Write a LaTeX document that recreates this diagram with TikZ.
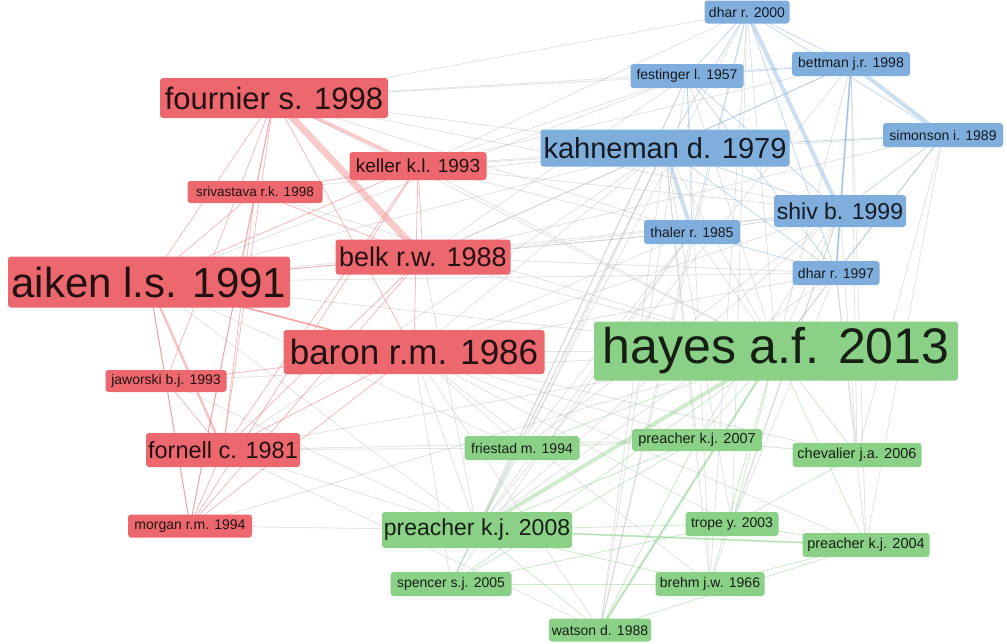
\documentclass[tikz,border=0pt]{standalone}
\usepackage{fontspec}
\setmainfont{Liberation Sans}
\newcommand\fsz[1]{\fontsize{#1}{#1}\selectfont}
\definecolor{cred}{RGB}{236,104,110}
\definecolor{cblue}{RGB}{128,174,220}
\definecolor{cgreen}{RGB}{138,208,134}
\definecolor{cgray}{RGB}{165,170,174}
\pgfdeclarelayer{bg}
\pgfsetlayers{bg,main}
\tikzset{
  nb/.style={rounded corners=3pt, inner sep=0pt, anchor=center},
  rnode/.style={nb, fill=cred, text=cred!15!black},
  bnode/.style={nb, fill=cblue, text=cblue!15!black},
  gnode/.style={nb, fill=cgreen, text=cgreen!15!black},
  redge/.style={draw=cred, opacity=0.45, line width=0.8pt},
  bedge/.style={draw=cblue, opacity=0.45, line width=0.8pt},
  gedge/.style={draw=cgreen, opacity=0.45, line width=0.8pt},
  xedge/.style={draw=cgray, opacity=0.3, line width=0.9pt},
}
\begin{document}
\begin{tikzpicture}[x=1pt,y=-1pt]
\useasboundingbox (0,0) rectangle (1007,643);
% red cluster
\node[rnode, minimum width=228, minimum height=40, font=\fsz{31}] (fournier) at (274,98) {fournier s. 1998};
\node[rnode, minimum width=137, minimum height=28, font=\fsz{19}] (keller) at (418,166) {keller k.l. 1993};
\node[rnode, minimum width=135, minimum height=22, font=\fsz{13.5}] (srivastava) at (255,192) {srivastava r.k. 1998};
\node[rnode, minimum width=175, minimum height=35, font=\fsz{27}] (belk) at (423,257) {belk r.w. 1988};
\node[rnode, minimum width=282, minimum height=51, font=\fsz{42}] (aiken) at (149,282) {aiken l.s. 1991};
\node[rnode, minimum width=261, minimum height=44, font=\fsz{35}] (baron) at (414,352) {baron r.m. 1986};
\node[rnode, minimum width=121, minimum height=22, font=\fsz{14}] (jaworski) at (166,381) {jaworski b.j. 1993};
\node[rnode, minimum width=154, minimum height=34, font=\fsz{23.5}] (fornell) at (223,450) {fornell c. 1981};
\node[rnode, minimum width=124, minimum height=23, font=\fsz{14}] (morgan) at (190,526) {morgan r.m. 1994};
% blue cluster
\node[bnode, minimum width=85, minimum height=23, font=\fsz{14}] (dharA) at (747,12) {dhar r. 2000};
\node[bnode, minimum width=113, minimum height=24, font=\fsz{14}] (festinger) at (687,76) {festinger l. 1957};
\node[bnode, minimum width=118, minimum height=24, font=\fsz{14}] (bettman) at (851,64) {bettman j.r. 1998};
\node[bnode, minimum width=249, minimum height=37, font=\fsz{29}] (kahneman) at (665,148) {kahneman d. 1979};
\node[bnode, minimum width=120, minimum height=24, font=\fsz{14}] (simonson) at (943,135) {simonson i. 1989};
\node[bnode, minimum width=132, minimum height=32, font=\fsz{23}] (shiv) at (840,211) {shiv b. 1999};
\node[bnode, minimum width=96, minimum height=24, font=\fsz{14}] (thaler) at (692,232) {thaler r. 1985};
\node[bnode, minimum width=87, minimum height=24, font=\fsz{14}] (dharB) at (836,273) {dhar r. 1997};
% green cluster
\node[gnode, minimum width=364, minimum height=59, font=\fsz{50}] (hayes) at (776,351) {hayes a.f. 2013};
\node[gnode, minimum width=115, minimum height=24, font=\fsz{14}] (friestad) at (522,448) {friestad m. 1994};
\node[gnode, minimum width=130, minimum height=22, font=\fsz{14.5}] (pre07) at (697,440) {preacher k.j. 2007};
\node[gnode, minimum width=129, minimum height=24, font=\fsz{14.5}] (chevalier) at (857,455) {chevalier j.a. 2006};
\node[gnode, minimum width=190, minimum height=36, font=\fsz{23}] (pre08) at (477,530) {preacher k.j. 2008};
\node[gnode, minimum width=93, minimum height=24, font=\fsz{14}] (trope) at (732,524) {trope y. 2003};
\node[gnode, minimum width=127, minimum height=24, font=\fsz{14.5}] (pre04) at (866,545) {preacher k.j. 2004};
\node[gnode, minimum width=121, minimum height=24, font=\fsz{14}] (spencer) at (451,584) {spencer s.j. 2005};
\node[gnode, minimum width=109, minimum height=24, font=\fsz{14}] (brehm) at (710,584) {brehm j.w. 1966};
\node[gnode, minimum width=102, minimum height=23, font=\fsz{14}] (watson) at (600,630) {watson d. 1988};

\begin{pgfonlayer}{bg}
% cross-cluster grey links
\foreach \a/\b in {aiken/hayes,aiken/kahneman,aiken/pre08,aiken/shiv,aiken/thaler,aiken/festinger,aiken/dharB,aiken/friestad,
  baron/hayes,baron/pre08,baron/kahneman,baron/pre07,baron/friestad,baron/spencer,baron/watson,baron/shiv,baron/dharB,baron/trope,baron/pre04,baron/chevalier,baron/brehm,baron/thaler,
  fournier/kahneman,fournier/festinger,fournier/dharA,fournier/bettman,fournier/shiv,fournier/hayes,fournier/thaler,
  keller/kahneman,keller/festinger,keller/bettman,keller/shiv,keller/thaler,keller/hayes,keller/dharA,keller/simonson,
  belk/kahneman,belk/hayes,belk/shiv,belk/festinger,belk/thaler,belk/pre08,belk/dharB,belk/simonson,belk/bettman,
  fornell/hayes,fornell/pre08,fornell/friestad,fornell/watson,fornell/pre07,fornell/kahneman,
  morgan/pre08,morgan/hayes,srivastava/kahneman,srivastava/hayes,jaworski/hayes,jaworski/pre08,
  kahneman/hayes,kahneman/pre08,kahneman/friestad,kahneman/trope,kahneman/brehm,kahneman/watson,kahneman/spencer,kahneman/pre07,
  festinger/hayes,festinger/brehm,festinger/spencer,festinger/pre08,festinger/watson,
  shiv/hayes,shiv/pre07,shiv/pre08,shiv/trope,shiv/brehm,shiv/friestad,shiv/chevalier,
  dharB/hayes,dharB/pre04,dharB/trope,dharB/pre08,dharB/chevalier,
  thaler/hayes,thaler/pre08,thaler/friestad,thaler/watson,thaler/spencer,
  simonson/hayes,simonson/pre04,simonson/chevalier,
  bettman/hayes,bettman/pre08,bettman/chevalier,bettman/pre04,
  dharA/hayes,dharA/pre08,dharA/trope,dharA/watson,dharA/brehm}
  \draw[xedge] (\a.center) -- (\b.center);
% red cluster links
\foreach \a/\b in {fournier/aiken,fournier/srivastava,fournier/baron,fournier/fornell,fournier/morgan,fournier/jaworski,
  aiken/morgan,aiken/jaworski,aiken/baron,aiken/belk,aiken/keller,aiken/srivastava,
  baron/fornell,baron/morgan,baron/jaworski,belk/fornell,belk/morgan,belk/srivastava,
  keller/fornell,keller/morgan,keller/srivastava,srivastava/fornell,srivastava/morgan,
  jaworski/morgan,jaworski/fornell,fornell/morgan,keller/belk,keller/baron}
  \draw[redge] (\a.center) -- (\b.center);
\draw[redge, line width=7pt, opacity=0.35] (fournier.center) -- (belk.center);
\draw[redge, line width=3.5pt, opacity=0.35] (fournier.center) -- (keller.center);
\draw[redge, line width=2.5pt, opacity=0.4] (aiken.center) -- (fornell.center);
\draw[redge, line width=2pt, opacity=0.4] (aiken.center) -- (baron.center);
% blue cluster links
\foreach \a/\b in {dharA/festinger,dharA/bettman,dharA/kahneman,dharA/simonson,dharA/dharB,dharA/thaler,
  bettman/shiv,bettman/dharB,bettman/kahneman,bettman/festinger,
  kahneman/simonson,kahneman/shiv,kahneman/dharB,simonson/shiv,simonson/dharB,
  festinger/shiv,festinger/dharB,festinger/thaler,shiv/dharB,thaler/shiv,thaler/dharB}
  \draw[bedge] (\a.center) -- (\b.center);
\draw[bedge, line width=4pt, opacity=0.4] (dharA.center) -- (shiv.center);
\draw[bedge, line width=4pt, opacity=0.4] (bettman.center) -- (simonson.center);
\draw[bedge, line width=4pt, opacity=0.4] (kahneman.center) -- (thaler.center);
\draw[bedge, line width=2pt, opacity=0.4] (bettman.center) -- (dharB.center);
% green cluster links
\foreach \a/\b in {hayes/spencer,hayes/watson,hayes/brehm,hayes/pre07,hayes/trope,hayes/pre04,hayes/chevalier,hayes/friestad,
  pre08/trope,pre08/pre04,pre08/pre07,pre08/spencer,pre08/watson,pre08/friestad,pre08/brehm,
  friestad/pre07,pre07/chevalier,pre07/spencer,spencer/brehm,watson/pre04,trope/pre04,brehm/pre04,
  watson/pre07,trope/chevalier,spencer/trope}
  \draw[gedge] (\a.center) -- (\b.center);
\draw[gedge, line width=4pt, opacity=0.4] (hayes.center) -- (pre08.center);
\draw[gedge, line width=2.5pt, opacity=0.4] (hayes.center) -- (watson.center);
\draw[gedge, line width=2pt, opacity=0.4] (pre08.center) -- (pre04.center);
\end{pgfonlayer}
\end{tikzpicture}
\end{document}
